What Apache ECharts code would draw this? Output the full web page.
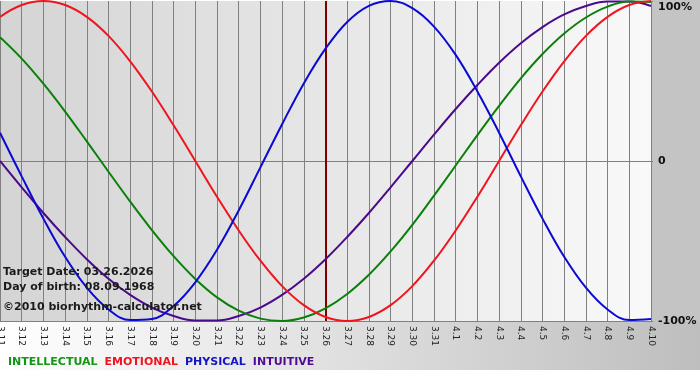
<!DOCTYPE html>
<html>
<head>
<meta charset="utf-8">
<script src="https://cdn.jsdelivr.net/npm/echarts@6/dist/echarts.min.js"></script>
<style>
    html, body { margin: 0; padding: 0; background: #fff; }
    #bioChart { width: 700px; height: 380px; }
</style>
</head>
<body>
<div id="bioChart"></div>
<script>
    'use strict';

    // days on the x axis
    const days = ['3.11', '3.12', '3.13', '3.14', '3.15', '3.16', '3.17', '3.18', '3.19', '3.20',
        '3.21', '3.22', '3.23', '3.24', '3.25', '3.26', '3.27', '3.28', '3.29', '3.30', '3.31',
        '4.1', '4.2', '4.3', '4.4', '4.5', '4.6', '4.7', '4.8', '4.9', '4.10'];

    // -1 .. 1
    const intellectual = [0.774, 0.640, 0.483, 0.309, 0.123, -0.067, -0.254, -0.432, -0.595, -0.737,
        -0.852, -0.935, -0.985, -1.000, -0.978, -0.921, -0.831, -0.711, -0.565, -0.399, -0.216,
        -0.028, 0.162, 0.345, 0.517, 0.669, 0.797, 0.897, 0.965, 0.997, 0.994];
    const emotional = [0.901, 0.975, 1.000, 0.975, 0.901, 0.782, 0.623, 0.434, 0.223, 0.000,
        -0.223, -0.434, -0.623, -0.782, -0.901, -0.975, -1.000, -0.975, -0.901, -0.782, -0.623,
        -0.434, -0.223, 0.000, 0.223, 0.434, 0.623, 0.782, 0.901, 0.975, 1.000];
    const physical = [0.177, -0.096, -0.360, -0.599, -0.792, -0.928, -0.994, -0.987, -0.906, -0.758,
        -0.555, -0.309, -0.040, 0.230, 0.485, 0.702, 0.869, 0.970, 1.000, 0.955, 0.840,
        0.663, 0.435, 0.177, -0.096, -0.360, -0.599, -0.792, -0.928, -0.994, -0.987];
    const intuitive = [0.000, -0.165, -0.325, -0.475, -0.614, -0.736, -0.837, -0.916, -0.969, -0.997,
        -0.997, -0.969, -0.916, -0.837, -0.736, -0.614, -0.475, -0.325, -0.165, 0.000, 0.165,
        0.325, 0.475, 0.614, 0.736, 0.837, 0.916, 0.969, 0.997, 0.997, 0.969];

    const targetDay = '3.26';
    const infoLines = ['Target Date: 03.26.2026', 'Day of birth: 08.09.1968'];
    const copyright = '\u00a92010 biorhythm-calculator.net';

    const colors = {
        INTELLECTUAL: '#0a800a',
        EMOTIONAL: '#f0141e',
        PHYSICAL: '#0a0ad2',
        INTUITIVE: '#4b0a8c'
    };
    const legendColors = {
        INTELLECTUAL: '#139613',
        EMOTIONAL: '#f0141e',
        PHYSICAL: '#1414c8',
        INTUITIVE: '#500a96'
    };

    const FONT = '"DejaVu Sans", Verdana, sans-serif';

    let makeSeries = (name, data, extra) => Object.assign({
        name: name,
        type: 'line',
        data: data,
        smooth: 0.4,
        smoothConstraint: false,
        showSymbol: false,
        symbol: 'none',
        lineStyle: { color: colors[name], width: 2 },
        itemStyle: { color: colors[name] },
        z: 5
    }, extra || {});

    let series = [
        makeSeries('INTUITIVE', intuitive),
        makeSeries('INTELLECTUAL', intellectual),
        makeSeries('EMOTIONAL', emotional, {
            // target date marker
            markLine: {
                silent: true,
                symbol: 'none',
                label: { show: false },
                lineStyle: { color: '#800000', width: 2, type: 'solid' },
                data: [{ xAxis: targetDay }]
            }
        }),
        makeSeries('PHYSICAL', physical)
    ];

    let option = {
        animation: false,
        textStyle: { fontFamily: FONT },
        grid: {
            left: 0,
            right: 49,
            top: 1,
            bottom: 59,
            outerBoundsMode: 'none',
            containLabel: false,
            show: true,
            borderWidth: 0,
            backgroundColor: {
                type: 'linear', x: 0, y: 0, x2: 1, y2: 0,
                colorStops: [
                    { offset: 0, color: '#d4d4d4' },
                    { offset: 1, color: '#f9f9f9' }
                ]
            }
        },
        legend: {
            left: -2,
            top: 352,
            itemWidth: 0,
            itemHeight: 0,
            itemGap: 2,
            icon: 'rect',
            selectedMode: false,
            textStyle: { fontFamily: FONT, fontSize: 11, fontWeight: 'bold' },
            data: Object.keys(legendColors).map((k) => ({ name: k, textStyle: { color: legendColors[k] } }))
        },
        xAxis: {
            type: 'category',
            data: days,
            boundaryGap: false,
            axisLine: { show: true, lineStyle: { color: '#808080', width: 1 } },
            axisTick: { show: true, interval: 0, length: 3, lineStyle: { color: '#808080' } },
            splitLine: { show: true, interval: 0, lineStyle: { color: '#808080', width: 1 } },
            axisLabel: {
                interval: 0,
                rotate: -90,
                margin: 5,
                color: '#222',
                fontSize: 9,
                fontFamily: FONT
            }
        },
        yAxis: {
            type: 'value',
            position: 'right',
            min: -1,
            max: 1,
            interval: 1,
            axisLine: { show: false },
            axisTick: { show: true, length: 2, lineStyle: { color: '#808080' } },
            splitLine: {
                show: true,
                lineStyle: { color: ['#808080', '#808080', 'rgba(0,0,0,0)'], width: 1 }
            },
            axisLabel: {
                margin: 7,
                color: '#111',
                fontSize: 11,
                fontWeight: 'bold',
                fontFamily: FONT,
                formatter: (v) => v === 1 ? '{t|100%}' : (v === 0 ? '0' : '-100%'),
                rich: {
                    t: { fontSize: 11, fontWeight: 'bold', fontFamily: FONT, color: '#111', padding: [12, 0, 0, 0] }
                }
            }
        },
        graphic: [
            // right margin and bottom band
            { type: 'rect', z: -100, silent: true, shape: { x: 651, y: 0, width: 49, height: 322 }, style: { fill: '#c4c4c4' } },
            {
                type: 'rect', z: -100, silent: true,
                shape: { x: 0, y: 322, width: 700, height: 48 },
                style: {
                    fill: {
                        type: 'linear', x: 0, y: 0, x2: 1, y2: 0,
                        colorStops: [{ offset: 0, color: '#ffffff' }, { offset: 1, color: '#bebebe' }]
                    }
                }
            },
            { type: 'text', z: 100, left: 3, top: 267, style: { text: infoLines[0], font: 'bold 11px ' + FONT, fill: '#1a1a1a' } },
            { type: 'text', z: 100, left: 3, top: 282, style: { text: infoLines[1], font: 'bold 11px ' + FONT, fill: '#1a1a1a' } },
            { type: 'text', z: 100, left: 3, top: 302, style: { text: copyright, font: 'bold 11px ' + FONT, fill: '#1a1a1a' } }
        ],
        series: series
    };

    let bioChart = echarts.init(document.getElementById('bioChart'), null, { renderer: 'canvas' });
    bioChart.setOption(option);
</script>
</body>
</html>
